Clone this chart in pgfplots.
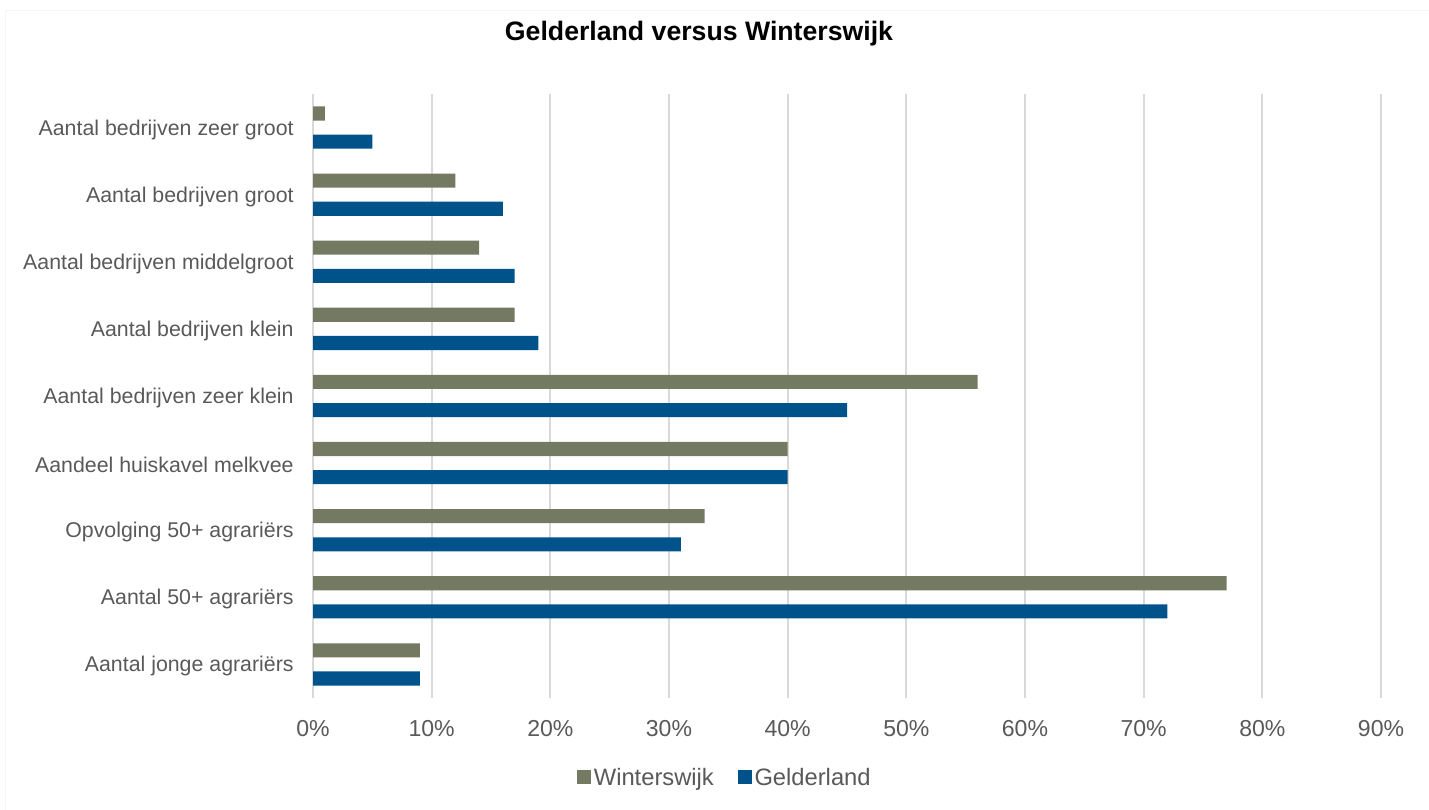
\documentclass[border=0pt]{standalone}
\usepackage{fontspec}
\setmainfont{Liberation Sans}
\usepackage{pgfplots}
\pgfplotsset{compat=1.18}
\usepackage{pgfplotstable}
\definecolor{wcol}{HTML}{747A61}
\definecolor{gcol}{HTML}{00538A}
\definecolor{gridc}{HTML}{D9D9D9}
\definecolor{txt}{HTML}{595959}
\definecolor{framec}{HTML}{F6F6F6}
\pgfplotstableread{
idx W G
0 9 9
1 77 72
2 33 31
3 40 40
4 56 45
5 17 19
6 14 17
7 12 16
8 1 5
}\data
\begin{document}
\begin{tikzpicture}
\useasboundingbox (0,0) rectangle (1071.75pt,607.5pt);
\draw[framec] (3.75pt,-2pt) rectangle (1075pt,600pt);
\node[font=\fontsize{20}{24}\selectfont\bfseries, text=black] at (524.25pt,582.5pt) {Gelderland versus Winterswijk};
\begin{axis}[
  at={(234.75pt,84pt)}, anchor=south west,
  scale only axis,
  width=801pt, height=453pt,
  xmin=0, xmax=90,
  ymin=-0.5, ymax=8.5,
  xtick={0,10,...,90},
  xticklabel={\pgfmathprintnumber{\tick}\%},
  /pgf/number format/assume math mode=true,
  ytick={0,...,8},
  yticklabels={Aantal jonge agrariërs, Aantal 50+ agrariërs, Opvolging 50+ agrariërs, Aandeel huiskavel melkvee, Aantal bedrijven zeer klein, Aantal bedrijven klein, Aantal bedrijven middelgroot, Aantal bedrijven groot, Aantal bedrijven zeer groot},
  major tick length=0pt,
  axis line style={draw=none},
  xmajorgrids,
  grid style={gridc, line width=1.5pt},
  ticklabel style={text=txt},
  yticklabel style={font=\fontsize{16}{19}\selectfont, xshift=-11pt, yshift=-1.5pt},
  xticklabel style={font=\fontsize{17.3}{20}\selectfont, yshift=-13pt},
  xbar,
  bar width=0.21,
  legend style={at={(0.386,-0.132)}, anchor=center, draw=none, legend columns=2,
    font=\fontsize{17.8}{21}\selectfont, text=txt,
    /tikz/every even column/.append style={column sep=16pt}},
  legend cell align=left,
]
\addplot[xbar, fill=wcol, draw=none, bar shift=0.21,
  legend image code/.code={\fill[wcol] (0pt,-5pt) rectangle (10.5pt,5.5pt);}]
  table[x=W, y=idx] {\data};
\addlegendentry{Winterswijk}
\addplot[xbar, fill=gcol, draw=none, bar shift=-0.21,
  legend image code/.code={\fill[gcol] (0pt,-5pt) rectangle (10.5pt,5.5pt);}]
  table[x=G, y=idx] {\data};
\addlegendentry{Gelderland}
\end{axis}
\end{tikzpicture}
\end{document}
